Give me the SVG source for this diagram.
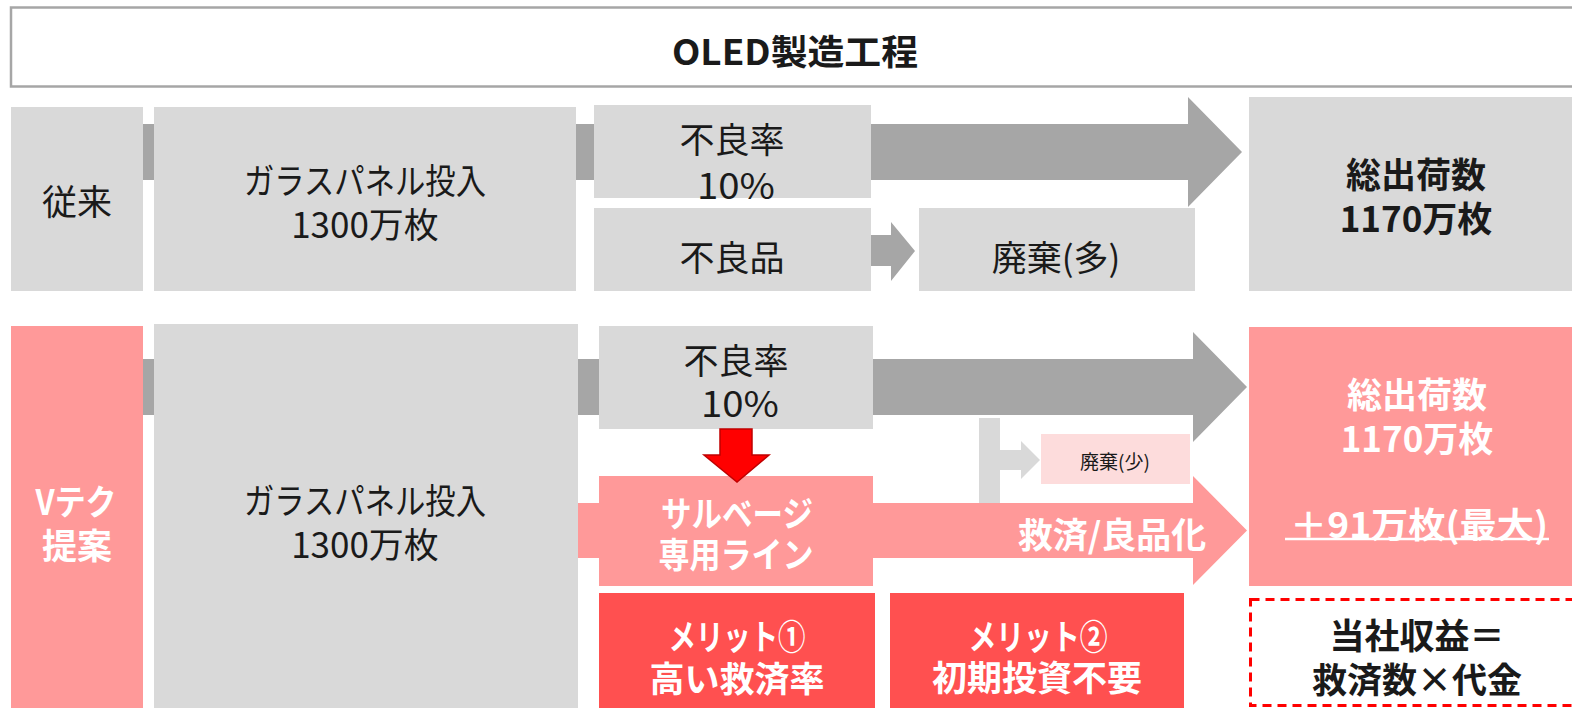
<svg xmlns="http://www.w3.org/2000/svg" width="1572" height="708" viewBox="0 0 1572 708">
<style>
text{font-family:"Noto Sans CJK JP","Noto Sans",sans-serif;text-anchor:middle;dominant-baseline:central;}
.r{font-size:35px;fill:#1a1a1a;}
.b{font-size:35px;font-weight:bold;fill:#1a1a1a;}
.w{font-size:35px;font-weight:bold;fill:#ffffff;}
.g{fill:#d9d9d9;}
.p{fill:#ff9999;}
.m{fill:#ff5050;}
.a{fill:#a6a6a6;}
</style>
<rect width="1572" height="708" fill="#ffffff"/>
<g id="title">
<rect x="11" y="7.5" width="1580" height="79" fill="#ffffff" stroke="#a6a6a6" stroke-width="2.5"/>
<text x="795" y="49" class="b" style="font-size:35px" textLength="246" lengthAdjust="spacingAndGlyphs">OLED製造工程</text>
</g>
<g id="connectors">
<rect class="a" x="143" y="124" width="11" height="56"/>
<path class="a" d="M576,124 H1188 V97 L1242,152 L1188,207 V180 H576 Z"/>
<path class="a" d="M868,235 H891 V222 L915,251 L891,281 V266 H868 Z"/>
<rect class="a" x="143" y="359" width="11" height="56"/>
<path class="a" d="M576,359 H1193 V332 L1247,387 L1193,442 V415 H576 Z"/>
<path class="p" d="M576,503 H1193 V476 L1247,530.5 L1193,585 V558 H576 Z"/>
<path class="g" d="M979,418 H1000 V450 H1021 V441 L1040,460 L1021,479 V470 H1000 V503 H979 Z"/>
</g>
<g id="jurai"><rect class="g" x="11" y="107" width="132" height="184"/><text class="r" x="77" y="199">従来</text></g>
<g id="glass1"><rect class="g" x="154" y="107" width="422" height="184"/>
<text class="r"><tspan x="365" y="178" textLength="242" lengthAdjust="spacingAndGlyphs">ガラスパネル投入</tspan><tspan x="365" y="222">1300万枚</tspan></text></g>
<g id="rate1"><rect class="g" x="594" y="105" width="277" height="93"/>
<text class="r"><tspan x="732" y="137">不良率</tspan><tspan x="736" y="183" textLength="78" lengthAdjust="spacingAndGlyphs">10%</tspan></text></g>
<g id="defect1"><rect class="g" x="594" y="208" width="277" height="83"/><text class="r" x="732" y="255">不良品</text></g>
<g id="waste1"><rect class="g" x="919" y="208" width="276" height="83"/><text class="r" x="1056" y="255">廃棄(多)</text></g>
<g id="total1"><rect class="g" x="1249" y="97" width="330" height="194"/>
<text class="b"><tspan x="1416" y="172">総出荷数</tspan><tspan x="1416" y="216">1170万枚</tspan></text></g>
<g id="vtech"><rect class="p" x="11" y="326" width="132" height="390"/>
<text class="w"><tspan x="76" y="499" textLength="81" lengthAdjust="spacingAndGlyphs">Vテク</tspan><tspan x="77" y="543">提案</tspan></text></g>
<g id="glass2"><rect class="g" x="154" y="324" width="424" height="392"/>
<text class="r"><tspan x="365" y="498" textLength="242" lengthAdjust="spacingAndGlyphs">ガラスパネル投入</tspan><tspan x="365" y="542">1300万枚</tspan></text></g>
<g id="rate2"><rect class="g" x="599" y="326" width="274" height="103"/>
<text class="r"><tspan x="736" y="358">不良率</tspan><tspan x="740" y="401" textLength="78" lengthAdjust="spacingAndGlyphs">10%</tspan></text></g>
<g id="salvage"><rect class="p" x="599" y="476" width="274" height="110"/>
<text class="w"><tspan x="737" y="511" textLength="152" lengthAdjust="spacingAndGlyphs">サルベージ</tspan><tspan x="736" y="552" textLength="155" lengthAdjust="spacingAndGlyphs">専用ライン</tspan></text></g>
<g id="redarrow"><path d="M720,429 H752 V455 H769 L737,482 L704,455 H720 Z" fill="#ff0000" stroke="#c00000" stroke-width="1.5"/></g>
<g id="rescue"><text class="w" x="1112" y="532">救済/良品化</text></g>
<g id="waste2"><rect x="1041" y="434" width="149" height="50" fill="#fddcdc"/><text x="1115" y="460" style="font-size:19px;fill:#1a1a1a">廃棄(少)</text></g>
<g id="total2"><rect class="p" x="1249" y="327" width="330" height="259"/>
<text class="w"><tspan x="1417" y="392">総出荷数</tspan><tspan x="1417" y="436">1170万枚</tspan><tspan x="1419" y="522" textLength="258" lengthAdjust="spacingAndGlyphs">＋91万枚(最大)</tspan></text>
<line x1="1285" y1="539" x2="1549" y2="539" stroke="#ffffff" stroke-width="2.5"/></g>
<g id="merit1"><rect class="m" x="599" y="593" width="276" height="120"/>
<text class="w"><tspan x="737" y="634" textLength="137" lengthAdjust="spacingAndGlyphs">メリット①</tspan><tspan x="737" y="676">高い救済率</tspan></text></g>
<g id="merit2"><rect class="m" x="890" y="593" width="294" height="120"/>
<text class="w"><tspan x="1038" y="634" textLength="139" lengthAdjust="spacingAndGlyphs">メリット②</tspan><tspan x="1037" y="675">初期投資不要</tspan></text></g>
<g id="revenue"><rect x="1250.5" y="599.5" width="340" height="106" fill="#ffffff" stroke="#ff0000" stroke-width="3" stroke-dasharray="9,6"/>
<text class="b"><tspan x="1417" y="633">当社収益＝</tspan><tspan x="1417" y="677">救済数×代金</tspan></text></g>
</svg>
